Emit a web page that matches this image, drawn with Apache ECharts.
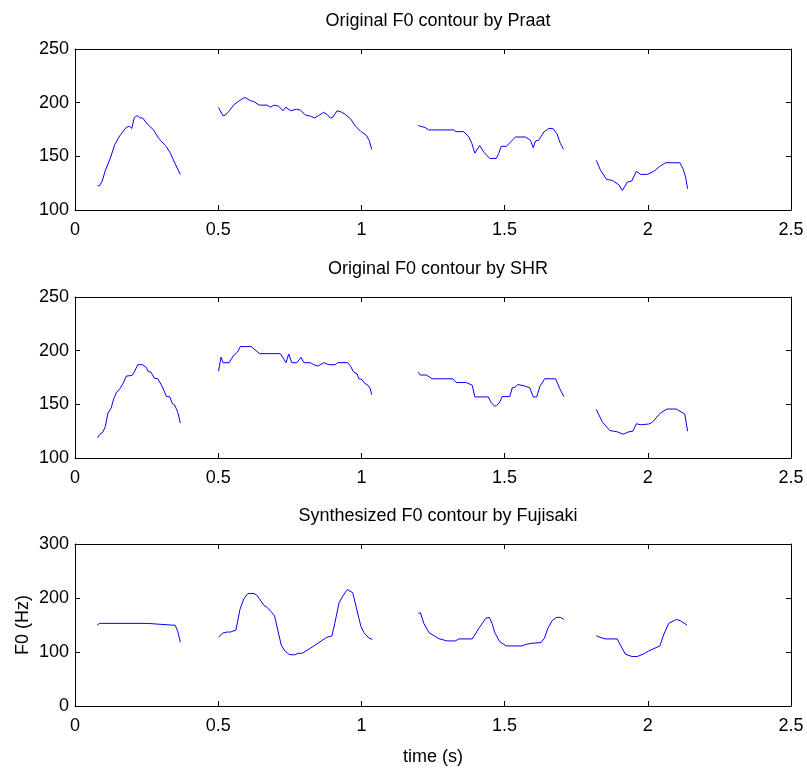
<!DOCTYPE html>
<html>
<head>
<meta charset="utf-8">
<script src="https://cdn.jsdelivr.net/npm/echarts@6/dist/echarts.min.js"></script>
<style>
  html, body { margin: 0; padding: 0; background: #fff; }
  #f0-chart { width: 807px; height: 769px; }
</style>
</head>
<body>
<div id="f0-chart"></div>
<script>
// F0 contours, [time (s), F0 (Hz)], one array per voiced segment
const praatSeg1 = [[0.079,122.6],[0.086,122.6],[0.095,127],[0.106,137],[0.123,148],[0.139,161],[0.156,169],[0.179,177],[0.190,178],[0.198,176],[0.207,186],[0.217,188],[0.226,186],[0.237,185.5],[0.254,179.6],[0.273,175],[0.293,166.5],[0.319,159],[0.333,153],[0.350,143],[0.368,133]];
const praatSeg2 = [[0.501,195.5],[0.517,187.7],[0.526,188.6],[0.537,192],[0.557,198.6],[0.577,202.3],[0.589,204.5],[0.596,204.5],[0.612,202],[0.626,200.8],[0.643,197.7],[0.671,197.7],[0.682,195.8],[0.696,197.7],[0.711,196.7],[0.726,192.4],[0.736,195.8],[0.754,192.4],[0.773,194],[0.787,193],[0.804,188.6],[0.822,187.4],[0.836,185.8],[0.851,188],[0.868,191],[0.880,189],[0.892,185.5],[0.901,186.8],[0.915,192.4],[0.929,191.4],[0.944,189],[0.962,185],[0.979,178.3],[0.997,173.4],[1.017,169.6],[1.027,165],[1.036,156.5]];
const praatSeg3 = [[1.198,178.7],[1.215,177.4],[1.223,176.8],[1.235,174.6],[1.323,174.6],[1.330,173],[1.357,173],[1.375,168],[1.386,161.8],[1.396,153],[1.413,160],[1.427,154],[1.448,148],[1.471,148],[1.479,152.5],[1.488,159.3],[1.506,159.3],[1.538,168],[1.573,168],[1.590,165],[1.600,158],[1.608,164.3],[1.619,165],[1.637,172.7],[1.654,176],[1.669,176],[1.683,171],[1.695,161.8],[1.706,156.5]];
const praatSeg4 = [[1.820,146.3],[1.835,137],[1.856,128.5],[1.876,127.6],[1.899,123.5],[1.911,118.2],[1.929,126],[1.944,127],[1.960,136],[1.975,133.2],[1.999,133.2],[2.021,136],[2.042,140.7],[2.062,144],[2.112,144],[2.123,138.5],[2.132,130.7],[2.139,119.8]];

const shrSeg1 = [[0.079,118.8],[0.086,121.9],[0.098,124.4],[0.106,129.4],[0.115,141.9],[0.126,146.3],[0.135,155],[0.144,160.6],[0.158,165],[0.170,170.6],[0.179,176.3],[0.199,176.9],[0.207,180],[0.219,186.9],[0.235,186.9],[0.249,184.4],[0.255,180.6],[0.265,180],[0.277,174.4],[0.289,173.8],[0.304,166.9],[0.319,157.5],[0.331,156.9],[0.340,150.6],[0.348,149.4],[0.359,142.5],[0.368,132.5]];
const shrSeg2 = [[0.501,180.9],[0.510,194],[0.517,188.8],[0.538,188.8],[0.554,195.6],[0.568,198.8],[0.577,203.8],[0.615,203.8],[0.645,197.2],[0.717,197.2],[0.737,188.8],[0.746,196.9],[0.757,188.8],[0.775,188.8],[0.789,193.8],[0.799,188.8],[0.822,188.8],[0.834,186.9],[0.848,185.6],[0.868,188.8],[0.887,186.9],[0.908,186.9],[0.917,188.8],[0.952,188.8],[0.962,185.6],[0.973,180],[0.985,178.4],[0.991,173.8],[1.002,173.1],[1.010,170],[1.024,167.5],[1.031,164.4],[1.036,159]];
const shrSeg3 = [[1.198,180],[1.206,177.3],[1.227,177.3],[1.247,173.8],[1.319,173.8],[1.331,170.3],[1.366,170.3],[1.387,167.8],[1.396,156.9],[1.443,156.9],[1.454,151.3],[1.465,148.4],[1.472,148.8],[1.484,152.5],[1.491,157.2],[1.518,157.2],[1.527,165.6],[1.535,165.6],[1.546,168.4],[1.569,167.2],[1.588,165.3],[1.600,156.9],[1.612,156.9],[1.623,166.6],[1.640,173.8],[1.678,173.8],[1.693,164.4],[1.707,157.2]];
const shrSeg4 = [[1.820,145.3],[1.841,133.8],[1.867,125.6],[1.893,124.4],[1.914,122.2],[1.934,124.4],[1.948,125],[1.960,131.9],[1.974,131],[2.003,131.6],[2.015,133.1],[2.044,141.9],[2.067,145.6],[2.100,145.6],[2.129,140.9],[2.139,125]];

const fujiSeg1 = [[0.077,149.4],[0.085,153],[0.252,153],[0.258,149.4],[0.350,149.4],[0.359,137.7],[0.368,118]];
const fujiSeg2 = [[0.501,127.2],[0.514,134.6],[0.531,137],[0.543,137],[0.549,140.7],[0.562,140.7],[0.576,178.9],[0.590,199],[0.604,208.4],[0.625,208.4],[0.636,204.7],[0.660,186.2],[0.671,182.6],[0.685,174.6],[0.697,166.6],[0.702,165.3],[0.712,131.5],[0.720,113],[0.732,102.6],[0.748,95.3],[0.767,94.7],[0.779,97.7],[0.794,97.7],[0.834,111.2],[0.879,127.2],[0.897,129.7],[0.907,153],[0.922,191.1],[0.935,203.4],[0.951,215.7],[0.970,209.6],[0.981,185],[0.998,148],[1.009,135.8],[1.027,125.4],[1.038,123.5]];
const fujiSeg3 = [[1.199,171.5],[1.206,172.7],[1.218,153],[1.236,135.8],[1.270,124.8],[1.299,120.5],[1.328,120.5],[1.340,124.2],[1.387,124.2],[1.410,143.8],[1.434,162.3],[1.447,164.1],[1.456,153],[1.467,134.6],[1.483,119.2],[1.506,111.2],[1.561,111.2],[1.576,114.3],[1.596,116.2],[1.627,117.4],[1.639,125.4],[1.651,143.8],[1.666,158],[1.681,164.1],[1.695,164.1],[1.707,160.4]];
const fujiSeg4 = [[1.820,130.3],[1.833,127.2],[1.852,124.2],[1.893,124.2],[1.904,113.1],[1.922,95.9],[1.945,91.6],[1.963,91.6],[1.986,96.5],[2.003,102],[2.042,111.2],[2.055,131.5],[2.073,153],[2.100,160.4],[2.113,158],[2.137,150]];

const titles = ['Original F0 contour by Praat', 'Original F0 contour by SHR', 'Synthesized F0 contour by Fujisaki'];
const panels = [
  { segs: [praatSeg1, praatSeg2, praatSeg3, praatSeg4], yMin: 100, yMax: 250, yStep: 50 },
  { segs: [shrSeg1, shrSeg2, shrSeg3, shrSeg4], yMin: 100, yMax: 250, yStep: 50 },
  { segs: [fujiSeg1, fujiSeg2, fujiSeg3, fujiSeg4], yMin: 0, yMax: 300, yStep: 100 },
];

const FONT = "'Liberation Sans', Arial, sans-serif";
const FS = 18;
const gridTops = [49, 297, 544];
const gridHeights = [161, 161, 162];

const chart = echarts.init(document.getElementById('f0-chart'));

const grid = [], xAxis = [], yAxis = [], series = [], title = [];
const boxLine = { show: true, onZero: false, lineStyle: { color: '#000', width: 1 } };
const tick = { show: true, inside: true, length: 5, lineStyle: { color: '#000' } };
const txt = { fontFamily: FONT, fontSize: FS, color: '#000' };

panels.forEach((p, i) => {
  grid.push({ left: 75, width: 716, top: gridTops[i], height: gridHeights[i], outerBoundsMode: 'none' });
  title.push({
    text: titles[i], left: 433, top: gridTops[i] - 42, textAlign: 'center',
    textStyle: { ...txt, fontWeight: 'normal' },
  });
  const isLast = i === panels.length - 1;
  xAxis.push({
    gridIndex: i, type: 'value', min: 0, max: 2.5, interval: 0.5, position: 'bottom',
    axisLine: boxLine, axisTick: tick, splitLine: { show: false },
    axisLabel: { ...txt, margin: 11 },
    name: isLast ? 'time (s)' : '', nameLocation: 'middle', nameGap: 42, nameMoveOverlap: false,
    nameTextStyle: txt,
  });
  xAxis.push({
    gridIndex: i, type: 'value', min: 0, max: 2.5, interval: 0.5, position: 'top',
    axisLine: boxLine, axisTick: tick, axisLabel: { show: false }, splitLine: { show: false },
  });
  yAxis.push({
    gridIndex: i, type: 'value', min: p.yMin, max: p.yMax, interval: p.yStep, position: 'left',
    axisLine: boxLine, axisTick: tick, splitLine: { show: false },
    axisLabel: { ...txt, margin: 6 },
    name: isLast ? 'F0 (Hz)' : '', nameLocation: 'middle', nameRotate: 90, nameGap: 43, nameMoveOverlap: false,
    nameTextStyle: txt,
  });
  yAxis.push({
    gridIndex: i, type: 'value', min: p.yMin, max: p.yMax, interval: p.yStep, position: 'right',
    axisLine: boxLine, axisTick: tick, axisLabel: { show: false }, splitLine: { show: false },
  });
  p.segs.forEach((seg) => {
    series.push({
      type: 'line', xAxisIndex: i * 2, yAxisIndex: i * 2, data: seg,
      showSymbol: false, symbol: 'none',
      lineStyle: { color: '#0000ff', width: 1 },
    });
  });
});

chart.setOption({ animation: false, title, grid, xAxis, yAxis, series });
</script>
</body>
</html>
